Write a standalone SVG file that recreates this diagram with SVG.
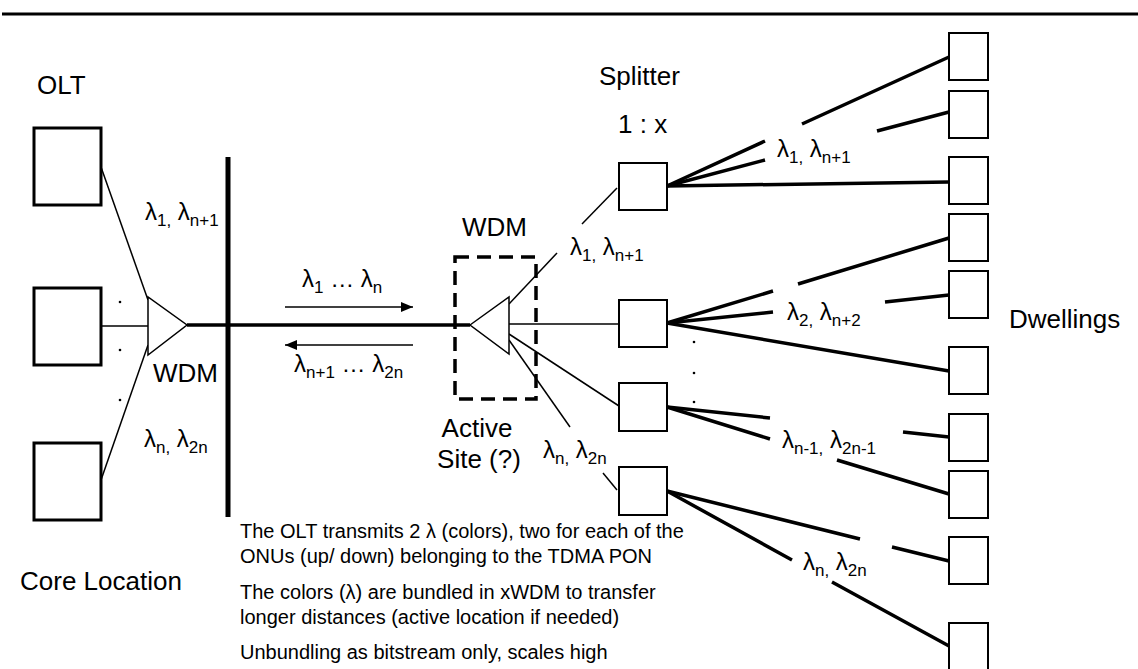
<svg xmlns="http://www.w3.org/2000/svg" width="1138" height="669" viewBox="0 0 1138 669">
<style>
text{font-family:"Liberation Sans",Arial,sans-serif;fill:#000}
.big{font-size:26px}
.lam{font-size:24px}
.sub{font-size:17px}
.note{font-size:20px}
.olt{fill:#fff;stroke:#000;stroke-width:3}
.sq{fill:#fff;stroke:#000;stroke-width:2}
.thin{stroke:#000;stroke-width:1.5;fill:none}
.fan{stroke:#000;stroke-width:3.5;fill:none}
.tri{fill:#fff;stroke:#000;stroke-width:1.5}
</style>
<defs>
<marker id="ah" viewBox="0 0 12 10" refX="12" refY="5" markerWidth="12" markerHeight="10" markerUnits="userSpaceOnUse" orient="auto">
<path d="M0,0 L12,5 L0,10 Z" fill="#000"/>
</marker>
</defs>
<line x1="2" y1="14" x2="1138" y2="14" stroke="#000" stroke-width="3"/>
<g id="connectors">
<line class="thin" x1="101" y1="167" x2="148" y2="300"/>
<line class="thin" x1="101" y1="326" x2="148" y2="326"/>
<line class="thin" x1="101" y1="480" x2="148" y2="345"/>
<line x1="228" y1="157" x2="228" y2="517" stroke="#000" stroke-width="5"/>
<line x1="187" y1="325" x2="470" y2="325" stroke="#000" stroke-width="3.5"/>
<line class="thin" x1="285" y1="307" x2="413" y2="307" marker-end="url(#ah)"/>
<line class="thin" x1="413" y1="345" x2="285" y2="345" marker-end="url(#ah)"/>
<line class="thin" x1="509" y1="304" x2="557" y2="253"/>
<line class="thin" x1="582" y1="224" x2="617" y2="188"/>
<line class="thin" x1="509" y1="324" x2="619" y2="324"/>
<line class="thin" x1="509" y1="334" x2="619" y2="406"/>
<line class="thin" x1="509" y1="340" x2="570" y2="427"/>
<line class="thin" x1="603" y1="473" x2="617" y2="490"/>
<path class="fan" d="M667,186 L765,141 M802,124 L949,57"/>
<path class="fan" d="M667,186 L765,160 M877,131 L949,112"/>
<path class="fan" d="M667,186 L949,182"/>
<path class="fan" d="M667,323 L773,291 M798,284 L949,238"/>
<path class="fan" d="M667,323 L773,312 M885,302 L949,295"/>
<path class="fan" d="M667,323 L949,371"/>
<path class="fan" d="M667,407 L770,418 M903,432 L949,437"/>
<path class="fan" d="M667,407 L770,439 M837,460 L949,494"/>
<path class="fan" d="M667,491 L860,539 M892,547 L949,561"/>
<path class="fan" d="M667,491 L792,560 M832,582 L949,646"/>
</g>
<g id="olt">
<text class="big" x="37" y="94">OLT</text>
<rect class="olt" x="34" y="128" width="67" height="77"/>
<rect class="olt" x="34" y="288" width="67" height="77"/>
<rect class="olt" x="34" y="443" width="67" height="77"/>
<circle cx="120" cy="302" r="1.3"/>
<circle cx="120" cy="350" r="1.3"/>
<circle cx="120" cy="400" r="1.3"/>
</g>
<g id="wdm-left">
<polygon class="tri" points="148,297 148,355 187,325"/>
<text class="big" x="153" y="382">WDM</text>
</g>
<g id="labels-left">
<text class="lam" x="145" y="220">λ<tspan class="sub" dy="6">1,</tspan><tspan dy="-6"> λ</tspan><tspan class="sub" dy="6">n+1</tspan></text>
<text class="lam" x="144" y="447">λ<tspan class="sub" dy="6">n,</tspan><tspan dy="-6"> λ</tspan><tspan class="sub" dy="6">2n</tspan></text>
<text class="lam" x="302" y="287">λ<tspan class="sub" dy="6">1</tspan><tspan dy="-6"> … λ</tspan><tspan class="sub" dy="6">n</tspan></text>
<text class="lam" x="294" y="372">λ<tspan class="sub" dy="6">n+1</tspan><tspan dy="-6"> … λ</tspan><tspan class="sub" dy="6">2n</tspan></text>
</g>
<g id="active-site">
<rect x="455" y="257" width="81" height="142" fill="none" stroke="#000" stroke-width="3.5" stroke-dasharray="14 8"/>
<polygon class="tri" points="470,325 509,297 509,354"/>
<text class="big" x="462" y="236">WDM</text>
<text class="big" x="477" y="437" text-anchor="middle">Active</text>
<text class="big" x="479" y="468" text-anchor="middle">Site (?)</text>
<text class="lam" x="570" y="255">λ<tspan class="sub" dy="6">1,</tspan><tspan dy="-6"> λ</tspan><tspan class="sub" dy="6">n+1</tspan></text>
<text class="lam" x="543" y="458">λ<tspan class="sub" dy="6">n,</tspan><tspan dy="-6"> λ</tspan><tspan class="sub" dy="6">2n</tspan></text>
</g>
<g id="splitters">
<text class="big" x="599" y="85">Splitter</text>
<text class="big" x="618" y="133">1 : x</text>
<rect class="sq" x="619" y="163" width="48" height="47"/>
<rect class="sq" x="619" y="300" width="48" height="47"/>
<rect class="sq" x="619" y="383" width="48" height="48"/>
<rect class="sq" x="619" y="467" width="48" height="48"/>
<circle cx="694" cy="342" r="1.3"/>
<circle cx="694" cy="373" r="1.3"/>
<circle cx="694" cy="402" r="1.3"/>
<text class="lam" x="777" y="157">λ<tspan class="sub" dy="6">1,</tspan><tspan dy="-6"> λ</tspan><tspan class="sub" dy="6">n+1</tspan></text>
<text class="lam" x="787" y="320">λ<tspan class="sub" dy="6">2,</tspan><tspan dy="-6"> λ</tspan><tspan class="sub" dy="6">n+2</tspan></text>
<text class="lam" x="782" y="448">λ<tspan class="sub" dy="6">n-1,</tspan><tspan dy="-6"> λ</tspan><tspan class="sub" dy="6">2n-1</tspan></text>
<text class="lam" x="803" y="570">λ<tspan class="sub" dy="6">n,</tspan><tspan dy="-6"> λ</tspan><tspan class="sub" dy="6">2n</tspan></text>
</g>
<g id="dwellings">
<rect class="sq" x="949" y="33" width="39" height="47"/>
<rect class="sq" x="949" y="91" width="39" height="47"/>
<rect class="sq" x="949" y="157" width="39" height="47"/>
<rect class="sq" x="949" y="214" width="39" height="47"/>
<rect class="sq" x="949" y="271" width="39" height="47"/>
<rect class="sq" x="949" y="347" width="39" height="47"/>
<rect class="sq" x="949" y="414" width="39" height="47"/>
<rect class="sq" x="949" y="471" width="39" height="47"/>
<rect class="sq" x="949" y="537" width="39" height="47"/>
<rect class="sq" x="949" y="623" width="39" height="47"/>
<text class="big" x="1009" y="328">Dwellings</text>
</g>
<g id="notes">
<text class="big" x="20" y="590">Core Location</text>
<text class="note" x="240" y="538">The OLT transmits 2 λ (colors), two for each of the</text>
<text class="note" x="240" y="563">ONUs (up/ down) belonging to the TDMA PON</text>
<text class="note" x="240" y="599">The colors (λ) are bundled in xWDM to transfer</text>
<text class="note" x="240" y="624">longer distances (active location if needed)</text>
<text class="note" x="240" y="659">Unbundling as bitstream only, scales high</text>
</g>
</svg>
